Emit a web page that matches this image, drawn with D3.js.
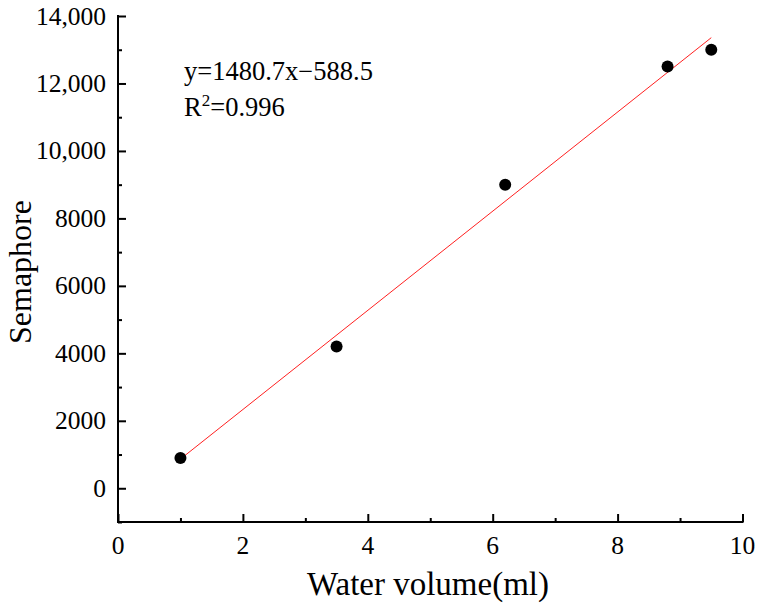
<!DOCTYPE html>
<html>
<head>
<meta charset="utf-8">
<script src="https://cdn.jsdelivr.net/npm/d3@7"></script>
<style>
  body { margin: 0; background: #fff; }
  svg { display: block; }
  svg text { font-family: "Liberation Serif", "Times New Roman", serif; fill: #000; }
</style>
</head>
<body>
<svg id="chart" width="762" height="612"></svg>
<script>
const waterVolume = [1, 3.5, 6.2, 8.8, 9.5];
const semaphore = [900, 4200, 9000, 12500, 13000];
const xTicks = [0, 2, 4, 6, 8, 10];
const yTicks = [0, 2000, 4000, 6000, 8000, 10000, 12000, 14000];
const yTickLabels = ['0', '2000', '4000', '6000', '8000', '10,000', '12,000', '14,000'];
const fitText = 'y=1480.7x\u2212588.5';
const r2Value = '0.996';

const svg = d3.select('#chart');
const x = d3.scaleLinear().domain([0, 10]).range([118, 742.5]);
const y = d3.scaleLinear().domain([-1000, 14000]).range([522, 16]);

// least squares fit for the red line
const mx = d3.mean(waterVolume), my = d3.mean(semaphore);
let sxy = 0, sxx = 0;
waterVolume.forEach((v, i) => { sxy += (v - mx) * (semaphore[i] - my); sxx += (v - mx) ** 2; });
const slope = sxy / sxx, icpt = my - slope * mx;
const x0 = d3.min(waterVolume), x1 = d3.max(waterVolume);

svg.append('line')
  .attr('x1', x(x0)).attr('y1', y(slope * x0 + icpt))
  .attr('x2', x(x1)).attr('y2', y(slope * x1 + icpt))
  .attr('stroke', '#ff2020').attr('stroke-width', 1);

svg.append('g').selectAll('circle')
  .data(waterVolume)
  .enter().append('circle')
  .attr('cx', d => x(d))
  .attr('cy', (d, i) => y(semaphore[i]))
  .attr('r', 6)
  .attr('fill', '#000');

// x axis, ticks inward
const xAxis = svg.append('g').attr('transform', `translate(0,${y(-1000)})`);
xAxis.call(d3.axisTop(x).tickValues(d3.range(0, 11, 1)).tickSize(4).tickFormat(''));
xAxis.call(g => g.selectAll('.tick').filter(d => d % 2 === 0).select('line').attr('y2', -8));
xAxis.selectAll('.domain').remove();
xAxis.append('line').attr('x1', x(0) - 1).attr('x2', x(10) + 1).attr('stroke', '#000').attr('stroke-width', 2);
xAxis.selectAll('.tick line').attr('stroke-width', 2);

// y axis, ticks inward
const yAxis = svg.append('g').attr('transform', `translate(${x(0)},0)`);
yAxis.call(d3.axisRight(y).tickValues(d3.range(-1000, 14001, 1000)).tickSize(4).tickFormat(''));
yAxis.call(g => g.selectAll('.tick').filter(d => d % 2000 === 0).select('line').attr('x2', 8));
yAxis.selectAll('.domain').remove();
yAxis.append('line').attr('y1', y(14000) - 1).attr('y2', y(-1000) + 1).attr('stroke', '#000').attr('stroke-width', 2);
yAxis.selectAll('.tick line').attr('stroke-width', 2);

// tick labels in their own group so the axis font defaults don't apply
const labels = svg.append('g')
  .attr('font-family', '"Liberation Serif", "Times New Roman", serif')
  .attr('font-size', 25.5);
labels.selectAll('.xl').data(xTicks).enter().append('text')
  .attr('x', d => x(d)).attr('y', y(-1000) + 32)
  .attr('text-anchor', 'middle')
  .text(d => d);
labels.selectAll('.yl').data(yTicks).enter().append('text')
  .attr('x', x(0) - 12).attr('y', d => y(d) + 8.5)
  .attr('text-anchor', 'end')
  .text((d, i) => yTickLabels[i]);

// titles
svg.append('text')
  .attr('x', 428).attr('y', 595)
  .attr('text-anchor', 'middle').attr('font-size', 33)
  .text('Water volume(ml)');
svg.append('text')
  .attr('transform', 'translate(31,272) rotate(-90)')
  .attr('text-anchor', 'middle').attr('font-size', 32)
  .text('Semaphore');

// equation
svg.append('text').attr('x', 184).attr('y', 80).attr('font-size', 26.5).text(fitText);
const r2 = svg.append('text').attr('x', 184).attr('y', 116).attr('font-size', 26.5);
r2.append('tspan').text('R');
r2.append('tspan').attr('dy', -10).attr('font-size', 17).text('2');
r2.append('tspan').attr('dy', 10).text('=' + r2Value);
</script>
</body>
</html>
